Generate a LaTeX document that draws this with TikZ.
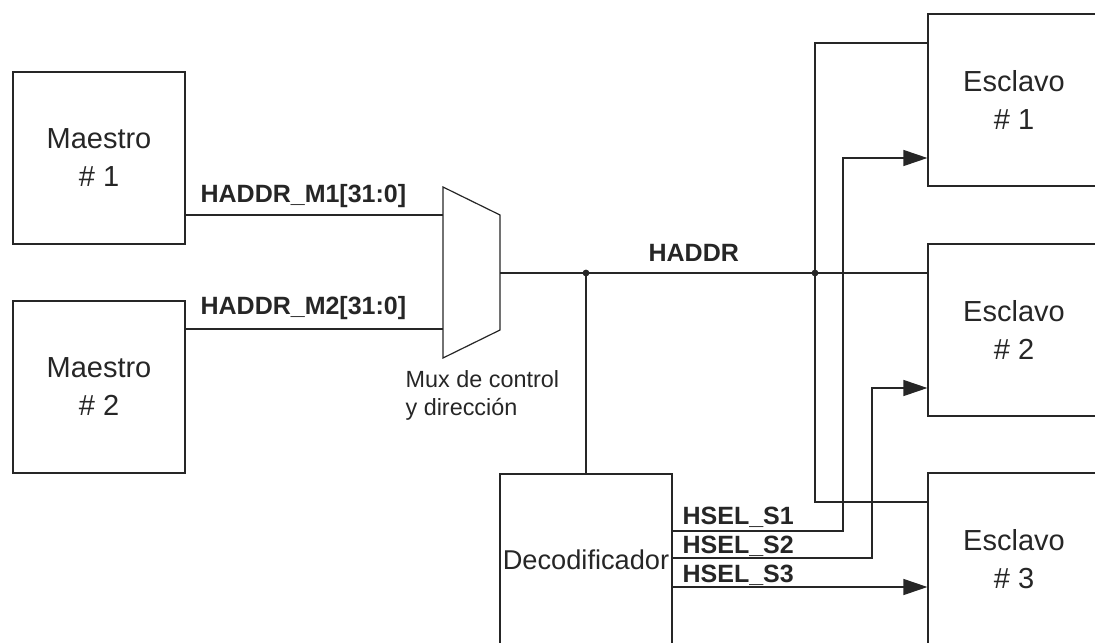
\documentclass[tikz,border=0pt]{standalone}
\usepackage{fontspec}
\setmainfont{Liberation Sans}
\usetikzlibrary{arrows.meta}

\begin{document}
\begin{tikzpicture}[
    x=0.5pt, y=-0.5pt, line width=0.6pt, color=black!85,
    blk/.style={draw, minimum width=86pt, minimum height=86pt, inner sep=0pt,
                align=center, font=\fontsize{14.5}{19}\selectfont},
    sig/.style={anchor=base west, inner sep=0pt,
                font=\bfseries\fontsize{12.5}{15}\selectfont},
    ar/.style={-{Triangle[length=12pt, width=8pt]}},
]
\useasboundingbox (0,0) rectangle (1095,642);
% --- masters, slaves, decoder ---
\node[blk] (m1) at (99,158) {Maestro\\\# 1};
\node[blk] (m2) at (99,387) {Maestro\\\# 2};
\foreach \i/\y in {1/100, 2/330, 3/559}
  \node[blk] (s\i) at (1014,\y) {Esclavo\\\# \i};
\node[blk, font=\fontsize{13.6}{17}\selectfont] (dec) at (586,560) {Decodificador};
% --- multiplexer ---
\coordinate (mxa) at (443,187); \coordinate (mxb) at (500,215);
\coordinate (mxc) at (500,330); \coordinate (mxd) at (443,358);
\draw (mxa) -- (mxb) -- (mxc) -- (mxd) -- cycle;
\coordinate (mxin1) at (443,215); \coordinate (mxin2) at (443,329);
\coordinate (mxout) at (500,273);
\node[anchor=north west, align=left, inner sep=0pt,
      font=\fontsize{11.7}{14}\selectfont] (mxlab) at (405,370)
  {Mux de control\\y dirección};
% --- master buses ---
\draw (mxin1 -| m1.east) -- (mxin1);
\draw (mxin2 -| m2.east) -- (mxin2);
\node[sig] (lm1) at (200,202) {HADDR\_M1[31:0]};
\node[sig] (lm2) at (200,314) {HADDR\_M2[31:0]};
% --- address bus to slaves and decoder ---
\coordinate (j1) at (586,273); \coordinate (j2) at (815,273);
\coordinate (t1) at (815,43);  \coordinate (t3) at (815,502);
\draw (mxout) -- (mxout -| s2.west);
\draw (j1) -- (dec.north);
\draw (t1 -| s1.west) -- (t1) -- (t3) -- (t3 -| s3.west);
\foreach \q in {j1,j2}{\fill (\q) circle (1.7pt);}
\node[sig] (lhaddr) at (648,261) {HADDR};
% --- select lines ---
\foreach \i/\y/\x/\ty in {1/531/843/158, 2/558/872/388}
  \draw[ar] (dec.east |- 0,\y) -- (\x,\y) -- (\x,\ty) -- (s\i.west |- 0,\ty);
\draw[ar] (dec.east |- 0,587) -- (s3.west |- 0,587);
\foreach \i/\y in {1/524, 2/553, 3/582}
  \node[sig] (lsel\i) at (682,\y) {HSEL\_S\i};
\end{tikzpicture}
\end{document}
